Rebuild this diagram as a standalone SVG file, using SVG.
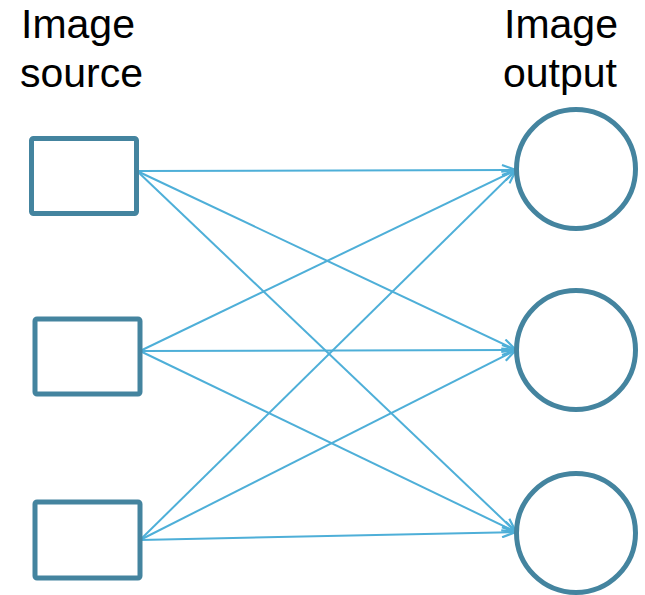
<svg xmlns="http://www.w3.org/2000/svg" width="645" height="595" viewBox="0 0 645 595">
  <style>
    .label { font-family: "Liberation Sans", Arial, sans-serif; font-size: 41px; fill: #000; }
    .src { fill: #fff; stroke: #44849f; stroke-width: 5; }
    .out { fill: #fff; stroke: #44849f; stroke-width: 5; }
    .edge { fill: none; stroke: #4eafd8; stroke-width: 2; marker-end: url(#arrow); }
  </style>
  <defs>
    <marker id="arrow" viewBox="0 0 16 12" refX="15" refY="6" markerWidth="16" markerHeight="12" markerUnits="userSpaceOnUse" orient="auto">
      <path d="M1,1 L15,6 L1,11" fill="none" stroke="#4eafd8" stroke-width="2.2" stroke-linejoin="round"/>
    </marker>
  </defs>

  <g id="labels">
    <text class="label" x="21" y="38">Image</text>
    <text class="label" x="20" y="87">source</text>
    <text class="label" x="504" y="38">Image</text>
    <text class="label" x="503" y="87">output</text>
  </g>

  <g id="connectors">
    <line class="edge" x1="137" y1="171" x2="516" y2="170"/>
    <line class="edge" x1="137" y1="171" x2="516" y2="350"/>
    <line class="edge" x1="137" y1="171" x2="516" y2="532"/>
    <line class="edge" x1="140" y1="351" x2="516" y2="170"/>
    <line class="edge" x1="140" y1="351" x2="516" y2="350"/>
    <line class="edge" x1="140" y1="351" x2="516" y2="532"/>
    <line class="edge" x1="140" y1="540" x2="516" y2="170"/>
    <line class="edge" x1="140" y1="540" x2="516" y2="350"/>
    <line class="edge" x1="140" y1="540" x2="516" y2="532"/>
  </g>

  <g id="source1"><rect class="src" x="31.5" y="138.5" width="105" height="75" rx="2"/></g>
  <g id="source2"><rect class="src" x="35" y="319" width="105" height="75" rx="2"/></g>
  <g id="source3"><rect class="src" x="35" y="502" width="105" height="76" rx="2"/></g>

  <g id="output1"><circle class="out" cx="576" cy="169" r="59.5"/></g>
  <g id="output2"><circle class="out" cx="576" cy="350" r="59.5"/></g>
  <g id="output3"><circle class="out" cx="576" cy="533" r="59.5"/></g>
</svg>
